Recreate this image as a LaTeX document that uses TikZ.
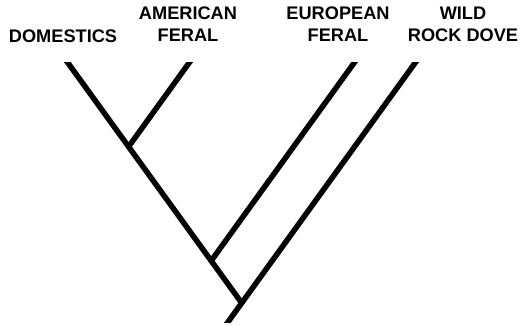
\documentclass[tikz,border=0pt]{standalone}
\usepackage{fontspec}
\setmainfont{Liberation Sans}
\usetikzlibrary{calc}
\begin{document}
\begin{tikzpicture}[x=1pt,y=-1pt,
  taxon/.style={anchor=north,inner sep=0pt,align=center,
    font=\fontsize{18.2}{22}\selectfont\bfseries},
  branch/.style={line width=5.5pt,line cap=butt,line join=miter}]
\useasboundingbox (0,0) rectangle (520,326);
% labels
\node[taxon] (ldom) at (63,30) {DOMESTICS};
\node[taxon] (lam)  at (188,7) {AMERICAN\\FERAL};
\node[taxon] (leu)  at (338,7) {EUROPEAN\\FERAL};
\node[taxon] (lwi)  at (463,7) {WILD\\ROCK DOVE};
% tips and nodes
\coordinate (d) at (68,63);
\coordinate (a) at (189,63);
\coordinate (e) at (354,63);
\coordinate (w) at (415,63);
\coordinate (r) at (228,322);
\coordinate (n3) at ($(w)!0.9266!(r)$);
\coordinate (a2) at ($(a)+(r)-(w)$);
\coordinate (e2) at ($(e)+(r)-(w)$);
\coordinate (n1) at (intersection of d--n3 and a--a2);
\coordinate (n2) at (intersection of d--n3 and e--e2);
\begin{scope}
\clip (0,63) rectangle (520,322);
\draw[branch] ($(r)!-0.05!(w)$) -- ($(w)!-0.05!(r)$);
\draw[branch] ($(d)!-0.05!(n3)$) -- (n3);
\draw[branch] ($(a)!-0.1!(n1)$) -- (n1);
\draw[branch] ($(e)!-0.05!(n2)$) -- (n2);
\end{scope}
\end{tikzpicture}
\end{document}
